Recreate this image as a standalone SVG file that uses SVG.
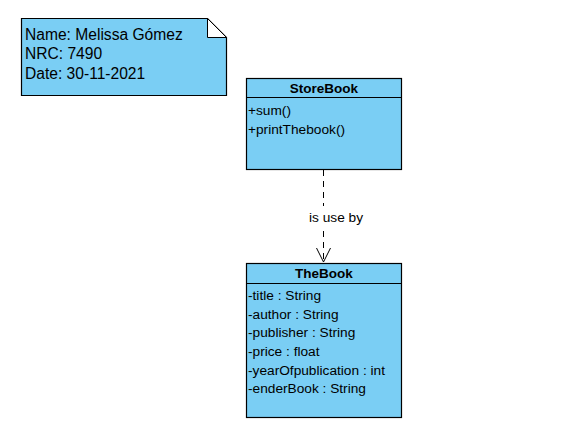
<svg xmlns="http://www.w3.org/2000/svg" width="561" height="442" viewBox="0 0 561 442">
<style>
.box{fill:#7acef4;stroke:#000;stroke-width:1.2}
.t{font-family:"Liberation Sans",Arial,sans-serif;font-size:13.7px;fill:#000}
.h{font-family:"Liberation Sans",Arial,sans-serif;font-size:13.5px;font-weight:bold;fill:#000;text-anchor:middle}
.n{font-family:"Liberation Sans",Arial,sans-serif;font-size:15.6px;fill:#000}
</style>
<rect width="561" height="442" fill="#fff"/>
<g id="note">
<path class="box" d="M21.5,18.5 H207.5 L226.5,37.5 V95.5 H21.5 Z"/>
<path d="M207.5,18.5 V37.5 H226.5 Z" fill="#fff" stroke="#000" stroke-width="1"/>
<text class="n" x="25" y="40">Name: Melissa Gómez</text>
<text class="n" x="25" y="59">NRC: 7490</text>
<text class="n" x="25" y="79">Date: 30-11-2021</text>
</g>
<g id="StoreBook">
<rect class="box" x="246.5" y="78.5" width="155" height="91"/>
<line x1="246.5" y1="97.5" x2="401.5" y2="97.5" stroke="#000" stroke-width="1.2"/>
<text class="h" x="324" y="93">StoreBook</text>
<text class="t" x="248" y="115">+sum()</text>
<text class="t" x="248" y="134">+printThebook()</text>
</g>
<g id="TheBook">
<rect class="box" x="246.5" y="263.5" width="155" height="154"/>
<line x1="246.5" y1="283.5" x2="401.5" y2="283.5" stroke="#000" stroke-width="1.2"/>
<text class="h" x="324" y="278">TheBook</text>
<text class="t" x="248" y="300">-title : String</text>
<text class="t" x="248" y="319">-author : String</text>
<text class="t" x="248" y="337">-publisher : String</text>
<text class="t" x="248" y="356">-price : float</text>
<text class="t" x="248" y="375">-yearOfpublication : int</text>
<text class="t" x="248" y="393">-enderBook : String</text>
</g>
<g id="connectors">
<line x1="323.5" y1="170" x2="323.5" y2="206" stroke="#000" stroke-dasharray="6,5"/>
<line x1="323.5" y1="231" x2="323.5" y2="262" stroke="#000" stroke-dasharray="6,5"/>
<polyline points="316.5,248 323.5,262 330.5,248" fill="none" stroke="#000"/>
<text class="t" x="336" y="222" text-anchor="middle">is use by</text>
</g>
</svg>
